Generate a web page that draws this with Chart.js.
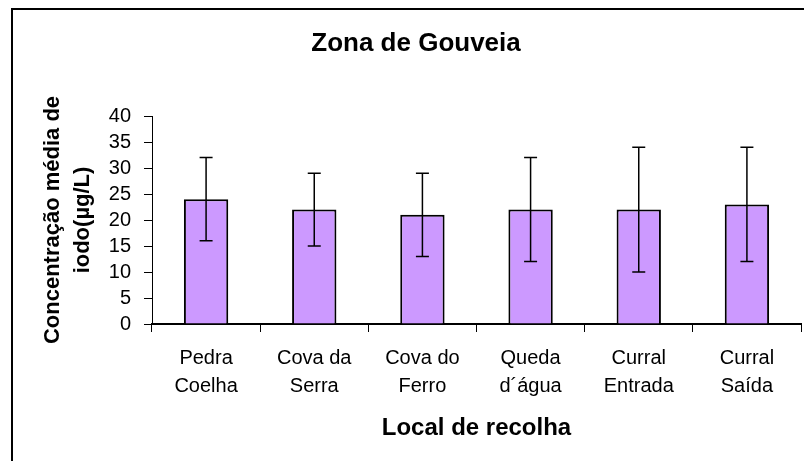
<!DOCTYPE html>
<html>
<head>
<meta charset="utf-8">
<script src="https://cdn.jsdelivr.net/npm/chart.js@4/dist/chart.umd.min.js"></script>
<style>
  html, body { margin: 0; padding: 0; background: #ffffff; }
  #wrap { width: 804px; height: 461px; }
</style>
</head>
<body>
<div id="wrap"><canvas id="c" width="804" height="461"></canvas></div>
<script>
const categories = [["Pedra", "Coelha"], ["Cova da", "Serra"], ["Cova do", "Ferro"], ["Queda", "d\u00B4\u00E1gua"], ["Curral", "Entrada"], ["Curral", "Sa\u00EDda"]];
const meanValues = [24, 22, 21, 22, 22, 23];
const errorValues = [8, 7, 8, 10, 12, 11];
const yTicks = [0, 5, 10, 15, 20, 25, 30, 35, 40];
const chartTitle = "Zona de Gouveia";
const xTitle = "Local de recolha";
const yTitle = ["Concentra\u00E7\u00E3o m\u00E9dia de", "iodo(\u00B5g/L)"];

const FONT = "'Liberation Sans', Arial, sans-serif";

const framePlugin = {
  id: 'frame',
  beforeDraw(chart) {
    const ctx = chart.ctx;
    ctx.save();
    ctx.fillStyle = '#ffffff';
    ctx.fillRect(0, 0, chart.width, chart.height);
    ctx.strokeStyle = '#000000';
    ctx.lineWidth = 2;
    ctx.strokeRect(12, 9, chart.width + 20, chart.height + 20);
    ctx.restore();
  }
};

const errorBarPlugin = {
  id: 'errorBars',
  afterDatasetsDraw(chart) {
    const ctx = chart.ctx;
    const meta = chart.getDatasetMeta(0);
    const yScale = chart.scales.y;
    ctx.save();
    ctx.strokeStyle = '#000000';
    ctx.lineWidth = 1.5;
    meta.data.forEach((bar, i) => {
      const x = bar.x;
      const top = yScale.getPixelForValue(meanValues[i] + errorValues[i]);
      const bot = yScale.getPixelForValue(meanValues[i] - errorValues[i]);
      const cap = 6.5;
      ctx.beginPath();
      ctx.moveTo(x, top); ctx.lineTo(x, bot);
      ctx.moveTo(x - cap, top); ctx.lineTo(x + cap, top);
      ctx.moveTo(x - cap, bot); ctx.lineTo(x + cap, bot);
      ctx.stroke();
    });
    ctx.restore();
  }
};

new Chart(document.getElementById('c'), {
  type: 'bar',
  data: {
    labels: categories,
    datasets: [{
      data: meanValues,
      backgroundColor: '#cc99ff',
      borderColor: '#000000',
      borderWidth: 2,
      barPercentage: 0.41,
      categoryPercentage: 1.0
    }]
  },
  plugins: [framePlugin, errorBarPlugin],
  options: {
    responsive: false,
    animation: false,
    devicePixelRatio: 1,
    layout: { padding: { left: 31, right: 3, top: 0, bottom: 0 } },
    plugins: {
      legend: { display: false },
      tooltip: { enabled: false },
      title: {
        display: true,
        text: chartTitle,
        color: '#000000',
        font: { family: FONT, size: 26, weight: 'bold', lineHeight: 1.2 },
        padding: { top: 28, bottom: 56.8 }
      }
    },
    scales: {
      x: {
        type: 'category',
        offset: true,
        afterFit: (s) => { s.height = 137; },
        grid: { display: true, offset: true, drawOnChartArea: false, drawTicks: true, tickLength: 8, color: '#000000', lineWidth: 1 },
        border: { display: true, color: '#000000', width: 2 },
        ticks: { color: '#000000', padding: 12, maxRotation: 0, autoSkip: false, font: { family: FONT, size: 20, lineHeight: 1.4 } },
        title: {
          display: true,
          text: xTitle,
          color: '#000000',
          font: { family: FONT, size: 24, weight: 'bold', lineHeight: 1.2 },
          padding: { top: 0, bottom: 18 }
        }
      },
      y: {
        min: 0,
        max: 40,
        afterFit: (s) => { s.width = 121; },
        afterBuildTicks: (s) => { s.ticks = yTicks.map(v => ({ value: v })); },
        grid: { display: true, drawOnChartArea: false, drawTicks: true, tickLength: 8, color: '#000000', lineWidth: 1 },
        border: { display: true, color: '#000000', width: 1 },
        ticks: { color: '#000000', padding: 13, stepSize: 5, autoSkip: false, font: { family: FONT, size: 20, lineHeight: 1.0 } },
        title: {
          display: true,
          text: yTitle,
          color: '#000000',
          font: { family: FONT, size: 22, weight: 'bold', lineHeight: 1.364 },
          padding: { top: 6.5, bottom: 0 }
        }
      }
    }
  }
});
</script>
</body>
</html>
